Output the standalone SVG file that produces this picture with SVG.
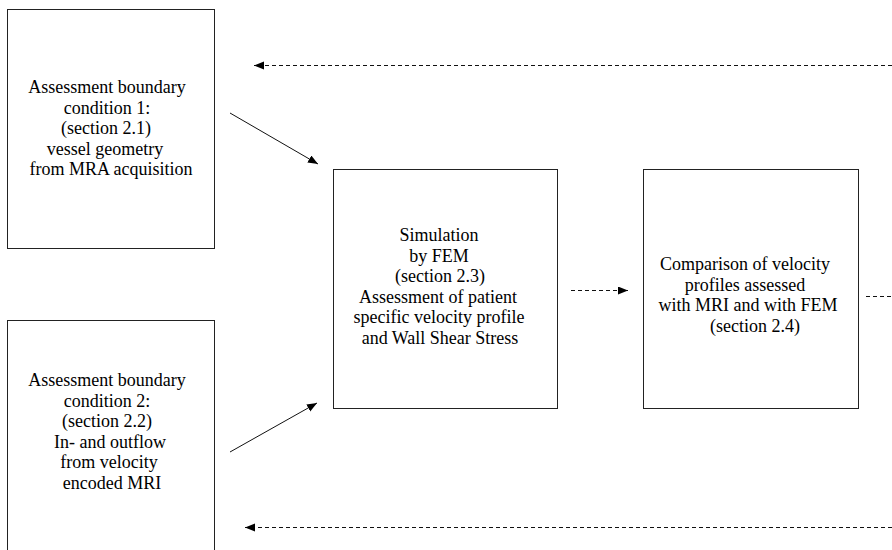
<svg xmlns="http://www.w3.org/2000/svg" width="892" height="550" viewBox="0 0 892 550">
<style>
.box{fill:#fff;stroke:#222;stroke-width:1}
text{font-family:"Liberation Serif","Times New Roman",serif;font-size:18px;fill:#000;text-anchor:middle}
.solid{stroke:#111;stroke-width:1;fill:none}
.dash{stroke:#111;stroke-width:1;fill:none;stroke-dasharray:4 3}
</style>
<defs>
<marker id="ah" markerUnits="userSpaceOnUse" markerWidth="11" markerHeight="9" refX="10" refY="4" orient="auto">
<path d="M0,0 L10,4 L0,8 z" fill="#000"/>
</marker>
</defs>
<rect width="892" height="550" fill="#fff"/>
<g id="node-bc1">
<rect class="box" x="7.5" y="9.5" width="207" height="239"/>
<text x="107" y="93">Assessment boundary</text>
<text x="107" y="113.5">condition 1:</text>
<text x="106" y="134">(section 2.1)</text>
<text x="105" y="154.5">vessel geometry</text>
<text x="111" y="175">from MRA acquisition</text>
</g>
<g id="node-bc2">
<rect class="box" x="7.5" y="320.5" width="207" height="240"/>
<text x="107" y="386">Assessment boundary</text>
<text x="107" y="406.5">condition 2:</text>
<text x="107" y="427">(section 2.2)</text>
<text x="110" y="447.5">In- and outflow</text>
<text x="109" y="468">from velocity</text>
<text x="112" y="488.5">encoded MRI</text>
</g>
<g id="node-fem">
<rect class="box" x="333.5" y="169.5" width="224" height="239"/>
<text x="439" y="241">Simulation</text>
<text x="439" y="261.5">by FEM</text>
<text x="440" y="282">(section 2.3)</text>
<text x="438" y="302.5">Assessment of patient</text>
<text x="439" y="323">specific velocity profile</text>
<text x="440" y="343.5">and Wall Shear Stress</text>
</g>
<g id="node-compare">
<rect class="box" x="643.5" y="169.5" width="215" height="239"/>
<text x="745" y="270">Comparison of velocity</text>
<text x="745" y="290.5">profiles assessed</text>
<text x="748" y="311">with MRI and with FEM</text>
<text x="755" y="331.5">(section 2.4)</text>
</g>
<g id="connectors">
<line class="solid" x1="230" y1="113" x2="318" y2="164" marker-end="url(#ah)"/>
<line class="solid" x1="230" y1="452" x2="317" y2="403" marker-end="url(#ah)"/>
<line class="dash" x1="571" y1="290.5" x2="628" y2="290.5" marker-end="url(#ah)"/>
<line class="dash" x1="866" y1="296.5" x2="892" y2="296.5"/>
<line class="dash" x1="892" y1="65.5" x2="254" y2="65.5" marker-end="url(#ah)"/>
<line class="dash" x1="892" y1="527.5" x2="245" y2="527.5" marker-end="url(#ah)"/>
</g>
</svg>
